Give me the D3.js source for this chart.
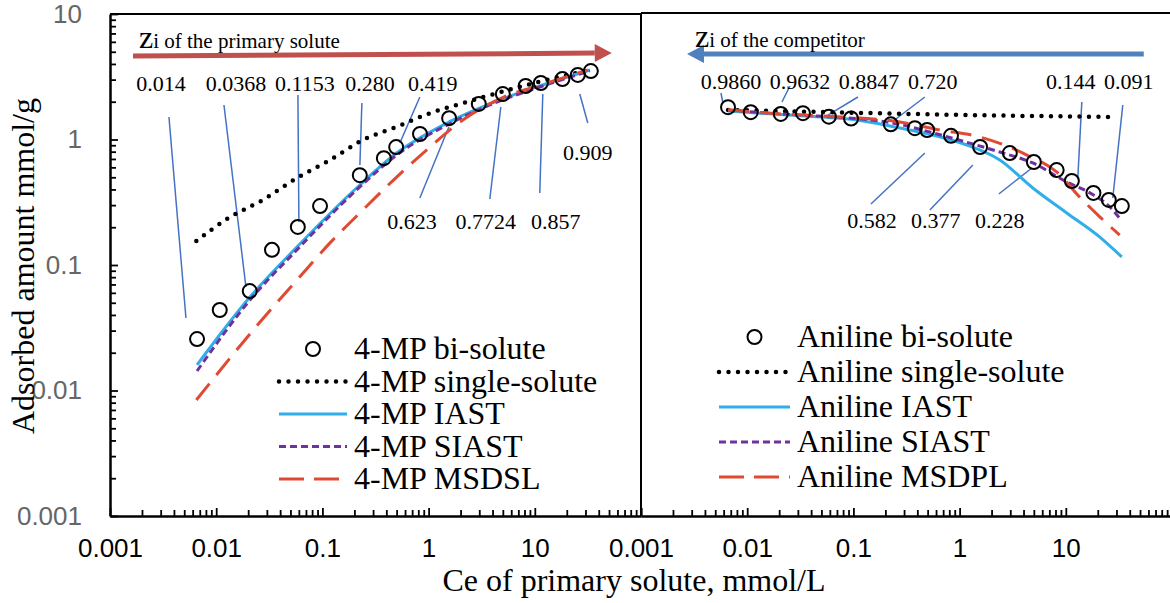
<!DOCTYPE html>
<html>
<head>
<meta charset="utf-8">
<script src="https://cdn.jsdelivr.net/npm/d3@7"></script>
<style>
  body { margin: 0; background: #fff; }
  svg { display: block; font-family: "Liberation Serif", "Times New Roman", serif; }
</style>
</head>
<body>
<svg id="chart" width="1170" height="603"></svg>
<script>
// ---- data ----
// experimental Ce of the primary solute (same points for both panels)
const ceBi = [0.0066, 0.0108, 0.0207, 0.0335, 0.0587, 0.095, 0.225, 0.379, 0.495, 0.83, 1.56, 2.97, 5.0, 8.2, 11.4, 18.2, 25.4, 33.7];
const mpBi = [0.0257, 0.0438, 0.062, 0.132, 0.201, 0.295, 0.52, 0.71, 0.87, 1.106, 1.48, 1.92, 2.3, 2.67, 2.82, 3.03, 3.27, 3.51];
const anBi = [1.81, 1.65, 1.60, 1.62, 1.52, 1.47, 1.32, 1.23, 1.19, 1.07, 0.871, 0.78, 0.662, 0.571, 0.467, 0.375, 0.330, 0.295];

// 4-MP model curves
const mpSingleCe = [0.0065, 0.0135, 0.0275, 0.0575, 0.118, 0.24, 0.50, 1.03, 2.10, 8.4, 33];
const mpSingle = [0.155, 0.241, 0.330, 0.493, 0.687, 0.99, 1.26, 1.62, 1.95, 2.72, 3.58];
const mpModelCe = [0.0066, 0.0208, 0.0575, 0.225, 0.50, 1.56, 4.7, 11.1, 33];
const mpIast = [0.0160, 0.0556, 0.139, 0.434, 0.78, 1.38, 2.07, 2.67, 3.58];
const mpSiast = [0.0143, 0.0526, 0.132, 0.419, 0.752, 1.33, 2.03, 2.62, 3.52];
const mpMsdslCe = [0.0065, 0.0232, 0.0575, 0.118, 0.24, 0.50, 1.03, 2.10, 5.1, 11.1, 31.6];
const mpMsdsl = [0.0084, 0.0315, 0.0759, 0.150, 0.274, 0.502, 0.871, 1.43, 2.18, 2.7, 3.58];

// aniline model curves
const anSingleCe = [0.0066, 0.0587, 0.225, 1.56, 8.2, 27.7];
const anSingle = [1.72, 1.65, 1.61, 1.56, 1.53, 1.51];
const anIastCe = [0.0066, 0.0207, 0.0587, 0.0955, 0.274, 0.56, 1.17, 2.39, 4.89, 10.2, 20.9, 33.7];
const anIast = [1.69, 1.58, 1.50, 1.45, 1.235, 1.087, 0.904, 0.687, 0.411, 0.26, 0.167, 0.116];
const anSiastCe = [0.0066, 0.0207, 0.0587, 0.0955, 0.274, 0.56, 1.17, 2.39, 4.89, 10.2, 17, 26, 32];
const anSiast = [1.72, 1.60, 1.52, 1.48, 1.32, 1.13, 0.95, 0.795, 0.65, 0.459, 0.374, 0.29, 0.237];
const anMsdplCe = [0.0066, 0.0207, 0.0587, 0.274, 0.66, 1.55, 4.3, 8.2, 13.5, 21, 32.2];
const anMsdpl = [1.72, 1.60, 1.53, 1.38, 1.19, 1.047, 0.752, 0.551, 0.348, 0.241, 0.173];

// zi callouts: label, label x, label y, leader start x, y, leader end x, y (data units)
const mpNotes = [
  ["0.014", 0.00302, 2.435, 0.00359, 1.511, 0.00519, 0.0378],
  ["0.0368", 0.01534, 2.435, 0.01183, 1.884, 0.01905, 0.0668],
  ["0.1153", 0.0684, 2.435, 0.0588, 2.262, 0.0601, 0.22],
  ["0.280", 0.28, 2.435, 0.2354, 1.954, 0.2254, 0.626],
  ["0.419", 1.096, 2.435, 0.827, 2.181, 0.5363, 0.938],
  ["0.623", 0.696, 0.1936, 0.827, 0.342, 1.551, 1.258],
  ["0.7724", 3.458, 0.1936, 3.771, 0.3357, 4.786, 1.816],
  ["0.857", 15.76, 0.1936, 11.14, 0.375, 11.89, 2.304],
  ["0.909", 31.54, 0.687, 31.54, 1.353, 26.52, 2.304]
];
const anNotes = [
  ["0.9860", 0.00703, 2.526, 0.00566, 2.347, 0.00591, 1.954],
  ["0.9632", 0.03136, 2.526, 0.02526, 2.668, 0.02124, 1.99],
  ["0.8847", 0.14, 2.526, 0.1103, 2.181, 0.0575, 1.567],
  ["0.720", 0.56, 2.526, 0.471, 2.181, 0.2512, 1.456],
  ["0.144", 11.14, 2.526, 14.15, 1.99, 12.97, 0.4934],
  ["0.091", 39.16, 2.526, 34.4, 1.884, 27.7, 0.342],
  ["0.582", 0.1493, 0.197, 0.1462, 0.3062, 0.471, 0.78],
  ["0.377", 0.5976, 0.197, 0.5248, 0.2742, 1.332, 0.626],
  ["0.228", 2.392, 0.197, 2.34, 0.368, 4.786, 0.593]
];

// direction arrows: x1, y1, x2 (head), y2, text x, text y
const mpArrow = [0.001646, 4.627, 53.05, 4.889, 0.001875, 5.36];
const anArrow = [54.2, 4.80, 0.00271, 4.80, 0.00322, 5.46];

const mpLegend = ["4-MP bi-solute", "4-MP single-solute", "4-MP IAST", "4-MP SIAST", "4-MP MSDSL"];
const anLegend = ["Aniline bi-solute", "Aniline single-solute", "Aniline IAST", "Aniline SIAST", "Aniline MSDPL"];
const majorTicks = [0.001, 0.01, 0.1, 1, 10, 100];
const tickLabels = ["0.001", "0.01", "0.1", "1", "10"];

// ---- drawing ----
const svg = d3.select("#chart");
const y = d3.scaleLog().domain([0.001, 10]).range([516, 14]);
const xL = d3.scaleLog().domain([0.001, 100]).range([110, 641]);
const xR = d3.scaleLog().domain([0.001, 100]).range([641, 1172]);

const minorTicks = [];
for (let e = -3; e <= 1; e++) {
    for (let k = 2; k <= 9; k++) minorTicks.push(+(k * Math.pow(10, e)).toPrecision(3));
}
const fmt = d => { const i = majorTicks.indexOf(d); return i >= 0 && i < tickLabels.length ? tickLabels[i] : ""; };

const styles = [
    {stroke: "#000", width: 4.5, dash: "0 9.5", cap: "round"},
    {stroke: "#2FAEEA", width: 3, dash: null, cap: "butt"},
    {stroke: "#7030A0", width: 3, dash: "7 4", cap: "butt"},
    {stroke: "#E04A33", width: 3, dash: "21 11", cap: "butt"}
];

function xAxis(x) {
    const g = svg.append("g").attr("transform", "translate(0," + y(0.001) + ")");
    g.call(d3.axisBottom(x).tickValues(minorTicks).tickSizeInner(-6).tickSizeOuter(0).tickFormat(""));
    g.select(".domain").remove();
    const m = svg.append("g").attr("transform", "translate(0," + y(0.001) + ")")
        .call(d3.axisBottom(x).tickValues(majorTicks).tickSizeInner(-8).tickSizeOuter(0).tickPadding(23).tickFormat(fmt));
    m.select(".domain").attr("stroke-width", 2.5);
    m.selectAll("text").attr("font-size", 26).attr("fill", "#000").attr("font-family", null);
    svg.selectAll("g.tick line").attr("stroke-width", 1.8);
}

function drawPanel(x, curves, ceObs, obs, notes, arrow, arrowColor, arrowText) {
    // callouts
    const notesG = svg.append("g");
    notes.forEach(n => {
        notesG.append("line")
            .attr("x1", x(n[3])).attr("y1", y(n[4]))
            .attr("x2", x(n[5])).attr("y2", y(n[6]))
            .attr("stroke", "#4472C4").attr("stroke-width", 1.5);
        notesG.append("text").attr("x", x(n[1])).attr("y", y(n[2]))
            .attr("text-anchor", "middle").attr("font-size", 22).text(n[0]);
    });

    // model curves
    const line = d3.line().x(d => x(d[0])).y(d => y(d[1])).curve(d3.curveMonotoneX);
    curves.forEach((c, i) => {
        const st = styles[i];
        svg.append("path").datum(d3.zip(c[0], c[1])).attr("d", line)
            .attr("fill", "none").attr("stroke", st.stroke).attr("stroke-width", st.width)
            .attr("stroke-dasharray", st.dash).attr("stroke-linecap", st.cap);
    });

    // bi-solute data
    svg.append("g").selectAll("circle").data(d3.zip(ceObs, obs)).join("circle")
        .attr("cx", d => x(d[0])).attr("cy", d => y(d[1])).attr("r", 7)
        .attr("fill", "none").attr("stroke", "#000").attr("stroke-width", 2);

    // zi arrow
    const x1 = x(arrow[0]), y1 = y(arrow[1]), x2 = x(arrow[2]), y2 = y(arrow[3]);
    const ang = Math.atan2(y2 - y1, x2 - x1), hl = 17, hw = 9;
    const bx = x2 - hl * Math.cos(ang), by = y2 - hl * Math.sin(ang);
    svg.append("line").attr("x1", x1).attr("y1", y1).attr("x2", bx).attr("y2", by)
        .attr("stroke", arrowColor).attr("stroke-width", 5);
    svg.append("path")
        .attr("d", "M" + x2 + "," + y2 + "L" + (bx - hw * Math.sin(ang)) + "," + (by + hw * Math.cos(ang)) +
            "L" + (bx + hw * Math.sin(ang)) + "," + (by - hw * Math.cos(ang)) + "Z")
        .attr("fill", arrowColor);
    const t = svg.append("text").attr("x", x(arrow[4])).attr("y", y(arrow[5]));
    t.append("tspan").attr("font-size", 32).text("z");
    t.append("tspan").attr("font-size", 21).text("i of the " + arrowText);
}

function legend(labels, x0, textX, rows) {
    const g = svg.append("g");
    labels.forEach((lab, i) => {
        const cy = rows[0] + i * rows[1];
        if (i === 0) {
            g.append("circle").attr("cx", (x0 + textX - 8) / 2 + 0.5).attr("cy", cy).attr("r", 7)
                .attr("fill", "none").attr("stroke", "#000").attr("stroke-width", 2);
        } else {
            const st = styles[i - 1];
            g.append("line").attr("x1", x0).attr("x2", textX - 7).attr("y1", cy).attr("y2", cy)
                .attr("stroke", st.stroke).attr("stroke-width", st.width)
                .attr("stroke-dasharray", i === 4 ? "25 10" : st.dash).attr("stroke-linecap", st.cap);
        }
        g.append("text").attr("x", textX).attr("y", cy + 10).attr("font-size", 32).text(lab);
    });
}

// frames
svg.append("line").attr("x1", xL(0.001)).attr("x2", xL(100)).attr("y1", y(10)).attr("y2", y(10))
    .attr("stroke", "#000").attr("stroke-width", 2);
svg.append("line").attr("x1", xR(0.001)).attr("x2", xR(100)).attr("y1", y(10) - 1).attr("y2", y(10) - 1)
    .attr("stroke", "#000").attr("stroke-width", 2);
svg.append("line").attr("x1", xL(100)).attr("x2", xL(100)).attr("y1", y(10)).attr("y2", y(0.001))
    .attr("stroke", "#000").attr("stroke-width", 2);

// y axis (left panel only)
const yMinor = minorTicks.filter(d => d < 10);
svg.append("g").attr("transform", "translate(" + xL(0.001) + ",0)")
    .call(d3.axisLeft(y).tickValues(yMinor).tickSizeInner(-6).tickSizeOuter(0).tickFormat(""))
    .select(".domain").remove();
const yg = svg.append("g").attr("transform", "translate(" + xL(0.001) + ",0)")
    .call(d3.axisLeft(y).tickValues(majorTicks.slice(0, 5)).tickSizeInner(-8).tickSizeOuter(0).tickPadding(28).tickFormat(fmt));
yg.select(".domain").attr("stroke-width", 2.5);
yg.selectAll("text").attr("font-size", 26).attr("fill", "#666").attr("font-family", null);

xAxis(xL);
xAxis(xR);

drawPanel(xL, [[mpSingleCe, mpSingle], [mpModelCe, mpIast], [mpModelCe, mpSiast], [mpMsdslCe, mpMsdsl]],
    ceBi, mpBi, mpNotes, mpArrow, "#C0504D", "primary solute");
drawPanel(xR, [[anSingleCe, anSingle], [anIastCe, anIast], [anSiastCe, anSiast], [anMsdplCe, anMsdpl]],
    ceBi, anBi, anNotes, anArrow, "#4F81BD", "competitor");

legend(mpLegend, 279, 354, [349, 32.5]);
legend(anLegend, 719, 797, [337, 35]);

// axis titles
svg.append("text").attr("x", 634).attr("y", 591).attr("text-anchor", "middle")
    .attr("font-size", 32).text("Ce of primary solute, mmol/L");
svg.append("text").attr("transform", "translate(34,266) rotate(-90)").attr("text-anchor", "middle")
    .attr("font-size", 32).text("Adsorbed amount mmol/g");
</script>
</body>
</html>
